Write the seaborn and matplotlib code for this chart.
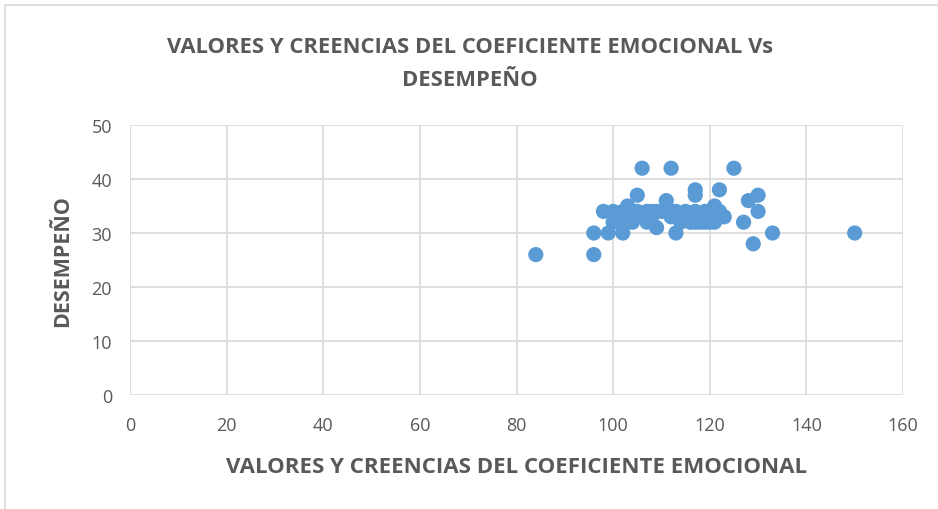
import matplotlib
matplotlib.use("Agg")
import matplotlib.pyplot as plt
import seaborn as sns
import pandas as pd
from matplotlib.patches import Rectangle

x_vals = [84, 96, 96, 99, 102, 106, 112, 125, 98, 105, 117, 117, 122, 111, 128, 130, 130,
          127, 129, 133, 150, 113, 109, 103, 121, 108, 123, 104, 107,
          100, 101, 100, 102, 103, 104, 105, 105, 106, 107, 108, 110, 111, 112, 113, 114,
          115, 116, 116, 117, 118, 118, 119, 119, 120, 120, 121, 122, 122, 101, 103, 109,
          114, 117, 112]
y_vals = [26, 26, 30, 30, 30, 42, 42, 42, 34, 37, 38, 37, 38, 36, 36, 37, 34,
          32, 28, 30, 30, 30, 31, 35, 35, 34, 33, 32, 32,
          34, 33, 32, 34, 33, 34, 34, 33, 33, 34, 33, 34, 34, 33, 34, 33,
          34, 33, 32, 32, 33, 32, 32, 34, 33, 32, 32, 34, 33, 32, 32, 34,
          32, 34, 34]

title = "VALORES Y CREENCIAS DEL COEFICIENTE EMOCIONAL Vs\nDESEMPEÑO"
xlabel = "VALORES Y CREENCIAS DEL COEFICIENTE EMOCIONAL"
ylabel = "DESEMPEÑO"
xticks = [0, 20, 40, 60, 80, 100, 120, 140, 160]
yticks = [0, 10, 20, 30, 40, 50]

df = pd.DataFrame({"x": x_vals, "y": y_vals})

sns.set_theme(style="white")
plt.rcParams['font.family'] = ['Open Sans', 'DejaVu Sans']

W, H = 938, 510
fig = plt.figure(figsize=(W / 100, H / 100), dpi=100)
ax = fig.add_axes([130 / W, 1 - 396 / H, (903 - 130) / W, (396 - 126) / H])

sns.scatterplot(data=df, x="x", y="y", ax=ax, color="#5B9BD5", s=120,
                edgecolor="none", linewidth=0, zorder=3)

ax.set_xlim(0, 160)
ax.set_ylim(0, 50)
ax.set_xticks(xticks)
ax.set_yticks(yticks)
ax.grid(True, color="#D9D9D9", linewidth=1.2, zorder=0)
for s in ax.spines.values():
    s.set_visible(False)
ax.tick_params(axis="both", length=0, labelsize=13, colors="#595959")
ax.tick_params(axis="x", pad=15)
ax.tick_params(axis="y", pad=13)

ax.set_xlabel(xlabel, fontsize=16, fontweight="bold", color="#595959", labelpad=16)
ax.set_ylabel(ylabel, fontsize=15.5, fontweight="bold", color="#595959", labelpad=13)

fig.text(470 / W, 1 - 64 / H, title, ha="center", va="center", fontsize=15.8,
         fontweight="bold", color="#595959", linespacing=1.75)

fig.patches.append(Rectangle((5 / W, -0.1), 1.2, 1.1 - 6 / H, transform=fig.transFigure,
                             fill=False, edgecolor="#D9D9D9", linewidth=1.2))

fig.savefig("out.png", dpi=100)
